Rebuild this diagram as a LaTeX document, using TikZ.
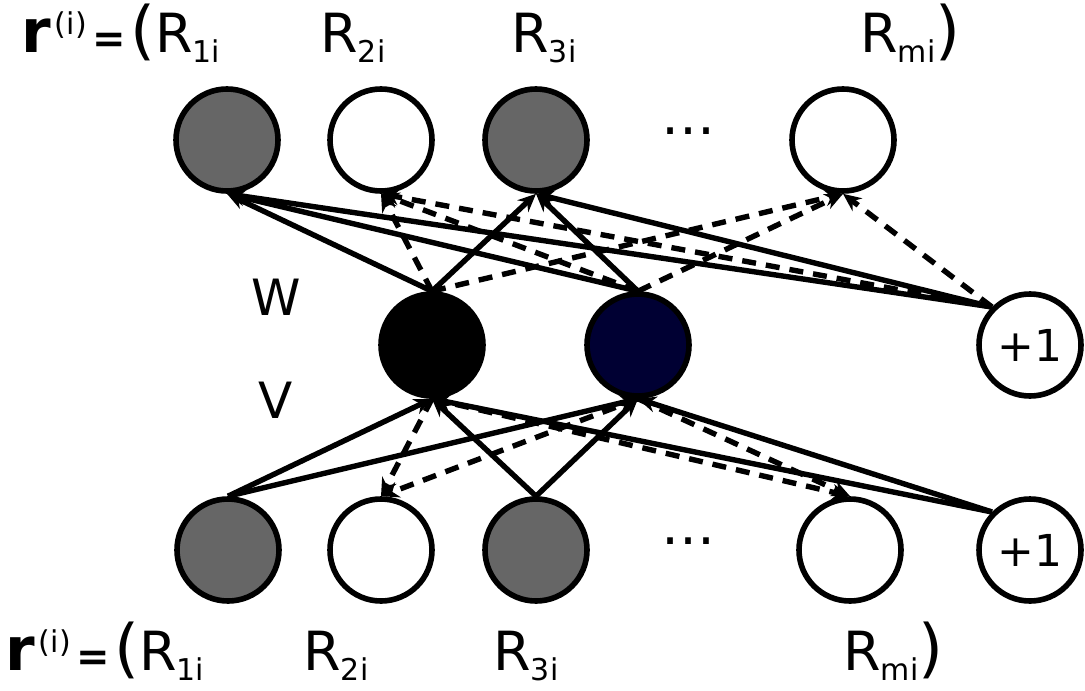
\documentclass[tikz,border=0pt]{standalone}
\usepackage{fontspec}
\setmainfont{DejaVu Sans}
\usepackage{xcolor}
\usepackage{tikz}
\usetikzlibrary{arrows.meta}
\definecolor{obsgray}{HTML}{666666}
\definecolor{hidnavy}{HTML}{000033}
\newcommand{\sbs}[1]{\raisebox{-5pt}{\fontsize{15}{15}\selectfont #1}}
\newcommand{\spr}[1]{\raisebox{9pt}{\fontsize{15}{15}\selectfont #1}}

\begin{document}
\begin{tikzpicture}[x=0.5pt, y=-0.5pt,
  neuron/.style={draw, circle, line width=2.8pt, minimum size=51pt, inner sep=0pt, fill=white},
  observed/.style={neuron, fill=obsgray},
  biasunit/.style={neuron, font=\fontsize{22}{22}\selectfont},
  rlabel/.style={anchor=base west, inner sep=0pt, font=\fontsize{27}{27}\selectfont},
  arrow/.style={-{Stealth[length=9pt, width=8pt]}, line width=2.7pt},
  missing/.style={arrow, dash pattern=on 7pt off 5pt}
]
  \useasboundingbox (0,0) rectangle (1085,690);
  \node[rlabel] (topr) at (21,53) {{\fontsize{30}{30}\selectfont\bfseries r}\hspace{2pt}\spr{(i)}\hspace{3pt}{\fontsize{20}{20}\selectfont\bfseries =}\hspace{2pt}{\fontsize{32}{32}\selectfont(}R\sbs{1i}};
  \node[rlabel] (topR2) at (320,53) {R\sbs{2i}};
  \node[rlabel] (topR3) at (511,53) {R\sbs{3i}};
  \node[rlabel] (topRm) at (860,53) {R\sbs{mi}{\fontsize{32}{32}\selectfont)}};
  \node[rlabel] (botr) at (5,670) {{\fontsize{30}{30}\selectfont\bfseries r}\hspace{2pt}\spr{(i)}\hspace{3pt}{\fontsize{20}{20}\selectfont\bfseries =}\hspace{2pt}{\fontsize{32}{32}\selectfont(}R\sbs{1i}};
  \node[rlabel] (botR2) at (303,670) {R\sbs{2i}};
  \node[rlabel] (botR3) at (493,670) {R\sbs{3i}};
  \node[rlabel] (botRm) at (843,670) {R\sbs{mi}{\fontsize{32}{32}\selectfont)}};
  \node[observed] (t1) at (227,140) {};
  \node[neuron] (t2) at (381,140) {};
  \node[observed] (t3) at (536,140) {};
  \node[rlabel, anchor=base] (topdots) at (688,134) {…};
  \node[neuron] (tm) at (843,140) {};
  \node[neuron, fill=black] (h1) at (432,345) {};
  \node[neuron, fill=hidnavy] (h2) at (638,345) {};
  \node[biasunit] (bias1) at (1030,345) {+1};
  \node[font=\fontsize{25}{25}\selectfont] (wlbl) at (276,297) {W};
  \node[font=\fontsize{25}{25}\selectfont] (vlbl) at (276,400) {V};
  \node[observed] (b1) at (228,550) {};
  \node[neuron] (b2) at (381,550) {};
  \node[observed] (b3) at (536,550) {};
  \node[rlabel, anchor=base] (botdots) at (688,544) {…};
  \node[neuron] (bm) at (850,550) {};
  \node[biasunit] (bias2) at (1030,550) {+1};
  \draw[arrow] (h1.north) -- (t1.south);
  \draw[arrow] (h2.north) -- (t1.south);
  \draw[arrow] (bias1.north west) -- (t1.south);
  \draw[missing] (h1.north) -- (t2.south);
  \draw[missing] (h2.north) -- (t2.south);
  \draw[missing] (bias1.north west) -- (t2.south);
  \draw[arrow] (h1.north) -- (t3.south);
  \draw[arrow] (h2.north) -- (t3.south);
  \draw[arrow] (bias1.north west) -- (t3.south);
  \draw[missing] (h1.north) -- (tm.south);
  \draw[missing] (h2.north) -- (tm.south);
  \draw[missing] (bias1.north west) -- (tm.south);
  \draw[arrow] (b1.north) -- (h1.south);
  \draw[arrow] (b1.north) -- (h2.south);
  \draw[arrow] (b3.north) -- (h1.south);
  \draw[arrow] (b3.north) -- (h2.south);
  \draw[arrow] (bias2.north west) -- (h1.south);
  \draw[arrow] (bias2.north west) -- (h2.south);
  \draw[missing] (h1.south) -- (b2.north);
  \draw[missing] (h2.south) -- (b2.north);
  \draw[missing] (h1.south) -- (bm.north);
  \draw[missing] (h2.south) -- (bm.north);
\end{tikzpicture}
\end{document}
